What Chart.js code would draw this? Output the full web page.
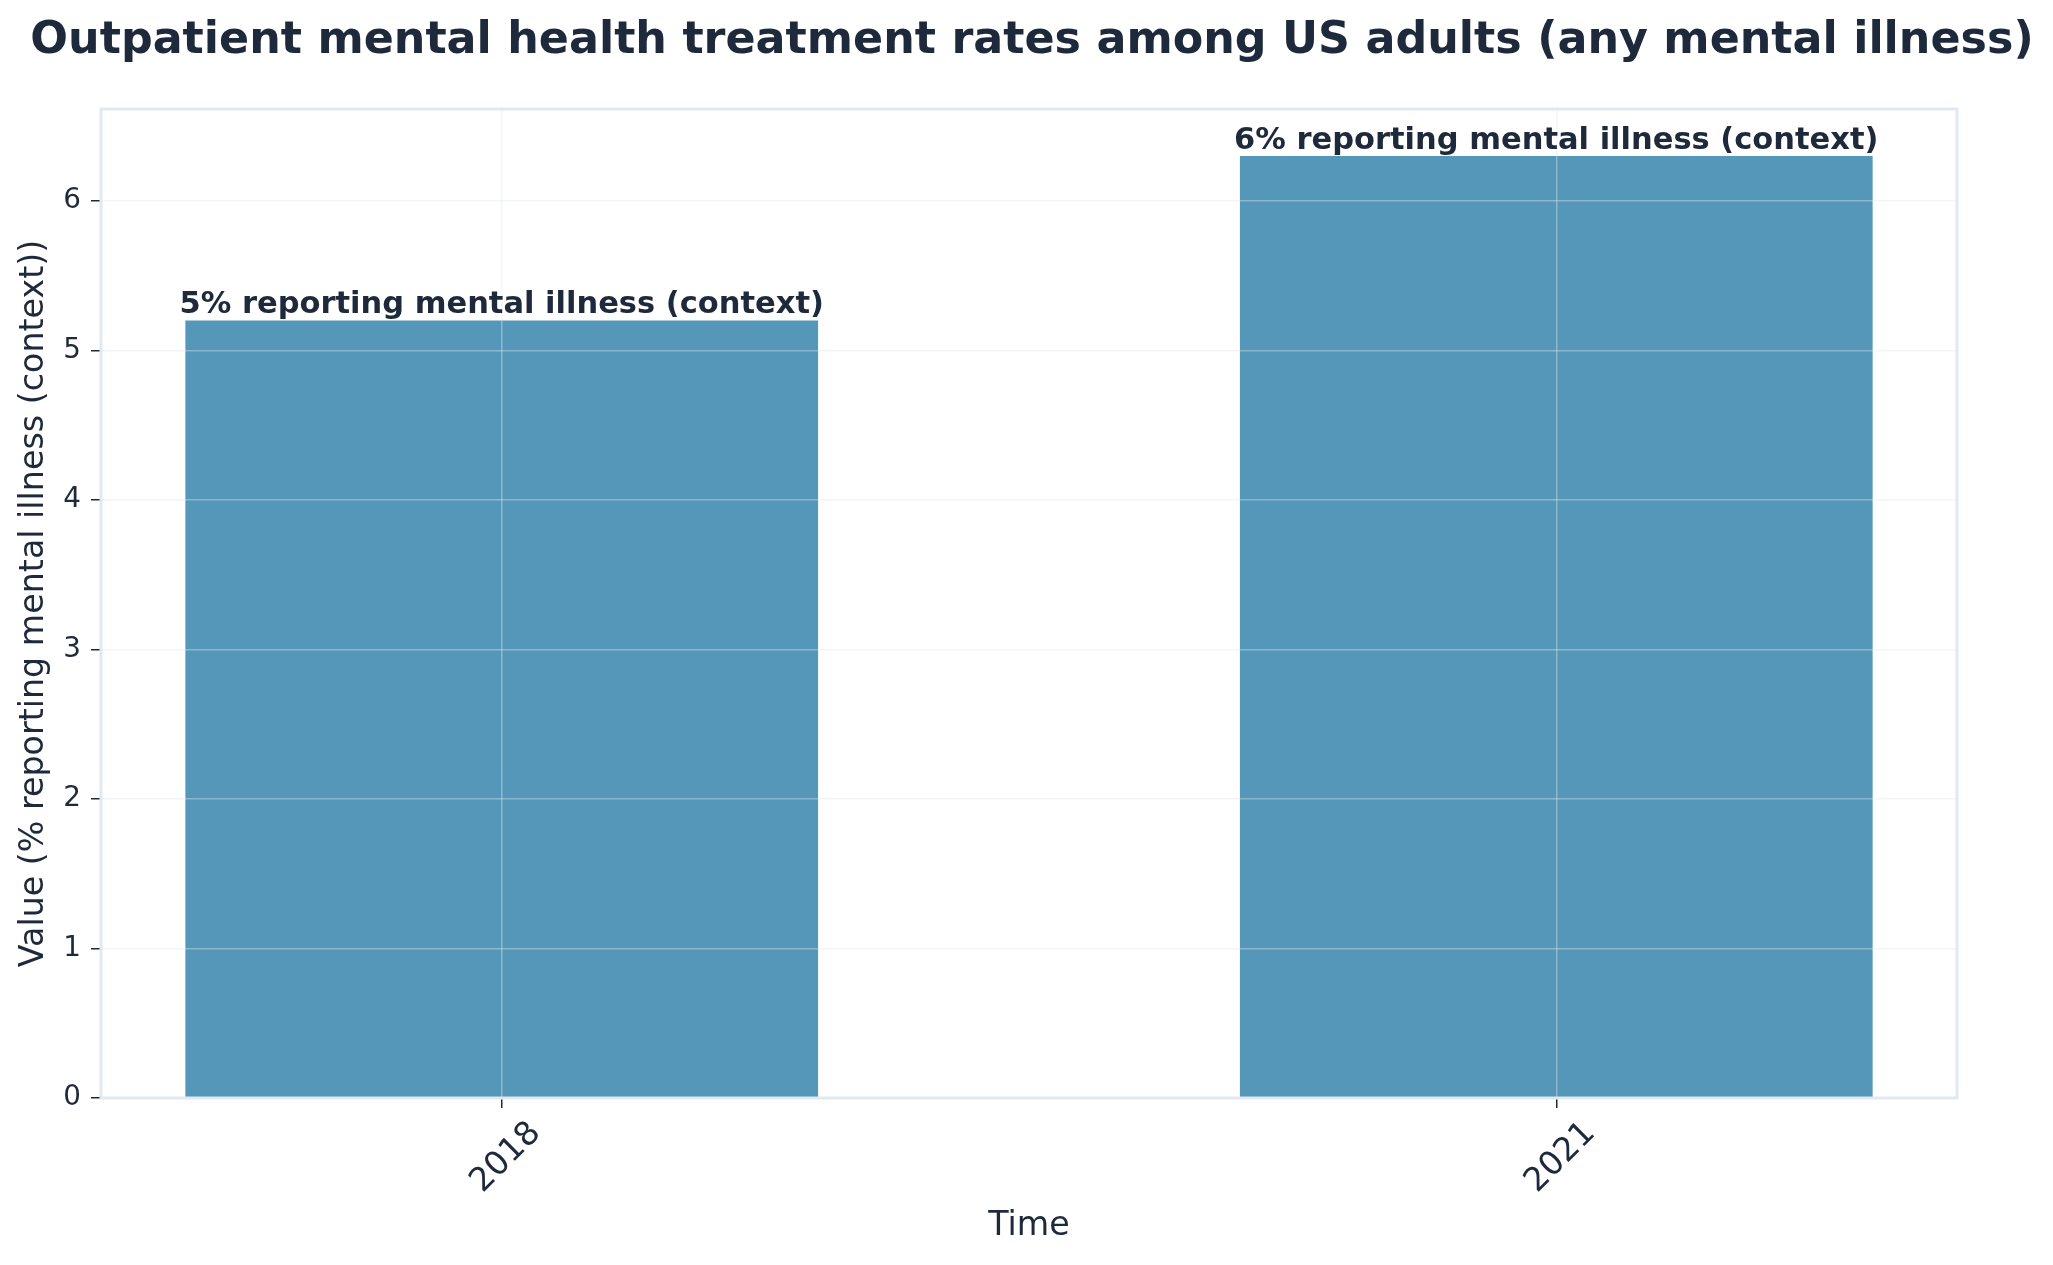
<!DOCTYPE html>
<html>
<head>
<meta charset="utf-8">
<title>Outpatient mental health treatment rates</title>
<script src="https://cdn.jsdelivr.net/npm/chart.js@4.4.1/dist/chart.umd.min.js"></script>
<style>
  html, body { margin: 0; padding: 0; background: #ffffff; }
  #wrap { width: 2053px; height: 1265px; position: relative; }
</style>
</head>
<body>
<div id="wrap"><canvas id="chart"></canvas></div>
<script>
// Data
const years = ['2018', '2021'];
const values = [5.2, 6.3];
const barLabels = ['5% reporting mental illness (context)', '6% reporting mental illness (context)'];
const yTicks = [0, 1, 2, 3, 4, 5, 6];

const chartTitle = 'Outpatient mental health treatment rates among US adults (any mental illness)';
const xTitle = 'Time';
const yTitle = 'Value (% reporting mental illness (context))';

const textColor = '#1e293b';
const barColor = '#5597b8';
const gridColor = 'rgba(226, 232, 240, 0.4)';
const frameColor = '#e2e8f0';
const fontFamily = '"DejaVu Sans", "Liberation Sans", sans-serif';

// Title, frame and bar value labels
const overlayPlugin = {
  id: 'overlay',
  afterDraw(chart) {
    const { ctx, chartArea } = chart;
    const xs = chart.scales.x;
    const ys = chart.scales.y;
    ctx.save();

    // frame around plot area
    ctx.strokeStyle = frameColor;
    ctx.lineWidth = 3;
    ctx.strokeRect(chartArea.left, chartArea.top, chartArea.right - chartArea.left, chartArea.bottom - chartArea.top);

    // labels above bars
    ctx.fillStyle = textColor;
    ctx.font = 'bold 30.5px ' + fontFamily;
    ctx.textAlign = 'center';
    ctx.textBaseline = 'bottom';
    values.forEach((v, i) => {
      ctx.fillText(barLabels[i], xs.getPixelForValue(i), ys.getPixelForValue(v));
    });

    // chart title
    ctx.font = 'bold 44.4px ' + fontFamily;
    ctx.textBaseline = 'alphabetic';
    ctx.fillText(chartTitle, (chartArea.left + chartArea.right) / 2 + 3, 53);
    ctx.restore();
  }
};

const ctx = document.getElementById('chart').getContext('2d');
new Chart(ctx, {
  type: 'bar',
  data: {
    datasets: [{
      label: yTitle,
      data: years.map((y, i) => ({ x: i, y: values[i] })),
      backgroundColor: barColor,
      borderWidth: 0,
      categoryPercentage: 1,
      barPercentage: 0.6
    }]
  },
  options: {
    responsive: true,
    maintainAspectRatio: false,
    animation: false,
    layout: { padding: { top: 109, right: 96, left: 0, bottom: 0 } },
    plugins: {
      legend: { display: false },
      title: { display: false },
      tooltip: { enabled: false }
    },
    scales: {
      x: {
        type: 'linear',
        min: -0.38,
        max: 1.38,
        offset: false,
        afterFit(scale) { scale.height = 167; },
        afterBuildTicks(scale) { scale.ticks = years.map((_, i) => ({ value: i })); },
        border: { display: false },
        grid: {
          z: 1,
          offset: false,
          color: gridColor,
          lineWidth: 1.5,
          tickColor: textColor,
          tickLength: 10,
          drawTicks: true
        },
        ticks: {
          color: textColor,
          font: { family: fontFamily, size: 33 },
          maxRotation: 45,
          minRotation: 45,
          padding: 6,
          labelOffset: 34,
          callback: (v) => years[v]
        },
        title: {
          display: true,
          text: xTitle,
          color: textColor,
          font: { family: fontFamily, size: 33.3 },
          padding: { top: 0, bottom: 19 }
        }
      },
      y: {
        min: 0,
        max: 6.615,
        afterFit(scale) { scale.width = 101; },
        afterBuildTicks(scale) { scale.ticks = yTicks.map(v => ({ value: v })); },
        border: { display: false },
        grid: {
          z: 1,
          color: gridColor,
          lineWidth: 1.5,
          tickColor: textColor,
          tickLength: 10
        },
        ticks: {
          color: textColor,
          font: { family: fontFamily, size: 27.8 },
          padding: 10
        },
        title: {
          display: true,
          text: yTitle,
          color: textColor,
          font: { family: fontFamily, size: 33.3 },
          padding: { top: 14, bottom: 0 }
        }
      }
    }
  },
  plugins: [overlayPlugin]
});
</script>
</body>
</html>
